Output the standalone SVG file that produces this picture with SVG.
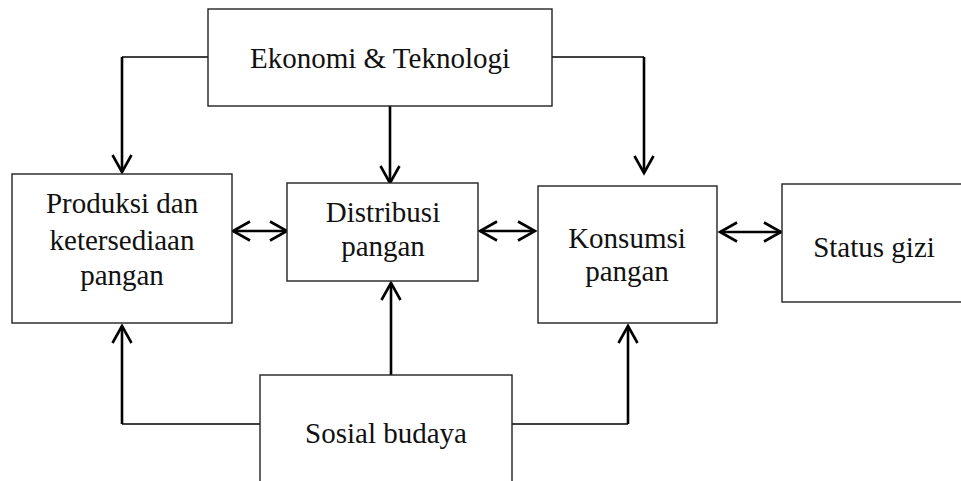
<svg xmlns="http://www.w3.org/2000/svg" width="961" height="481" viewBox="0 0 961 481">
<style>
.box{fill:#fff;stroke:#222;stroke-width:1.4}
.t{font-family:"Liberation Serif","Times New Roman",serif;font-size:29px;fill:#111;text-anchor:middle}
.thin{fill:none;stroke:#000;stroke-width:1.6}
.arr{fill:none;stroke:#000;stroke-width:2.6}
</style>
<defs>
<marker id="ah" markerUnits="userSpaceOnUse" orient="auto-start-reverse" markerWidth="40" markerHeight="40" refX="0" refY="0" viewBox="-20 -20 40 40" style="overflow:visible">
<path d="M-17,-9.5 L0,0 L-17,9.5" fill="none" stroke="#000" stroke-width="2.6"/>
</marker>
</defs>
<rect width="961" height="481" fill="#fff"/>
<g id="connectors">
<path class="thin" d="M208,57 H122"/>
<path class="arr" d="M122,57 V172" marker-end="url(#ah)"/>
<path class="arr" d="M390,106 V183" marker-end="url(#ah)"/>
<path class="thin" d="M552,57 H644"/>
<path class="arr" d="M644,57 V173" marker-end="url(#ah)"/>
<path class="arr" d="M233,231 H287" marker-start="url(#ah)" marker-end="url(#ah)"/>
<path class="arr" d="M480,231 H535" marker-start="url(#ah)" marker-end="url(#ah)"/>
<path class="arr" d="M720,232 H781" marker-start="url(#ah)" marker-end="url(#ah)"/>
<path class="thin" d="M260,424 H122"/>
<path class="arr" d="M122,424 V326" marker-end="url(#ah)"/>
<path class="arr" d="M391,375 V283" marker-end="url(#ah)"/>
<path class="thin" d="M512,424 H628"/>
<path class="arr" d="M628,424 V326" marker-end="url(#ah)"/>
</g>
<g id="ekonomi">
<rect class="box" x="208" y="9" width="344" height="97"/>
<text class="t" x="380" y="68">Ekonomi &amp; Teknologi</text>
</g>
<g id="produksi">
<rect class="box" x="12" y="174" width="220" height="149"/>
<text class="t" x="122" y="213">Produksi dan</text>
<text class="t" x="122" y="250">ketersediaan</text>
<text class="t" x="122" y="285">pangan</text>
</g>
<g id="distribusi">
<rect class="box" x="287" y="183" width="191" height="98"/>
<text class="t" x="383" y="222">Distribusi</text>
<text class="t" x="383" y="256">pangan</text>
</g>
<g id="konsumsi">
<rect class="box" x="538" y="186" width="179" height="137"/>
<text class="t" x="627" y="248">Konsumsi</text>
<text class="t" x="627" y="281">pangan</text>
</g>
<g id="status">
<rect class="box" x="782" y="184" width="184" height="118"/>
<text class="t" x="874" y="257">Status gizi</text>
</g>
<g id="sosial">
<rect class="box" x="260" y="375" width="252" height="116"/>
<text class="t" x="386" y="443">Sosial budaya</text>
</g>
</svg>
